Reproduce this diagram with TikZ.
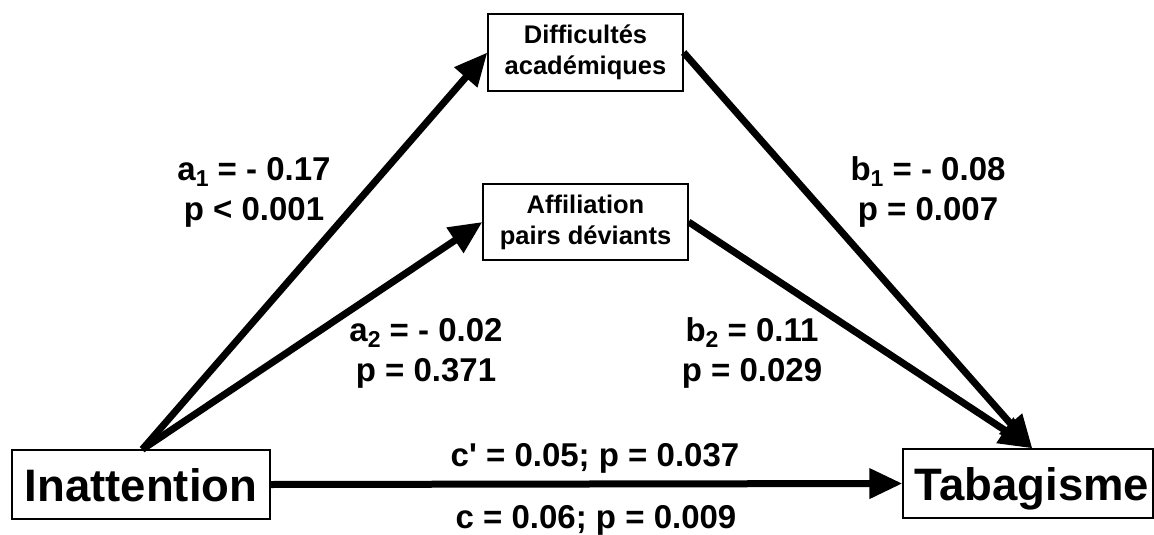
\documentclass[tikz,border=0pt]{standalone}
\usepackage{fontspec}
\setmainfont{Liberation Sans}
\usetikzlibrary{arrows.meta}
\newcommand{\lowsub}[1]{\raisebox{-0.18em}{\fontsize{23}{23}\selectfont #1}}
\begin{document}
\begin{tikzpicture}[x=1pt,y=-1pt,
  box/.style={draw, line width=1.3pt, fill=white, inner sep=0pt, align=center,
    font=\bfseries\fontsize{25.5}{31}\selectfont},
  bigbox/.style={draw, line width=1.3pt, fill=white, inner sep=0pt,
    font=\bfseries\fontsize{45.5}{54}\selectfont, text height=33pt, text depth=0pt},
  lbl/.style={inner sep=0pt, align=center, font=\bfseries\fontsize{33}{40}\selectfont},
  arr/.style={line width=7pt, -{Triangle[length=33pt,width=29pt]}}]
\useasboundingbox (0,0) rectangle (1154,535);

\node[box, minimum width=195pt, minimum height=77pt] (diff) at (585.5,52.5) {Difficultés\\académiques};
\node[box, minimum width=205pt, minimum height=76pt] (aff) at (585.5,222) {Affiliation\\pairs déviants};
\node[bigbox, minimum width=258pt, minimum height=69pt] (inat) at (141,484.5) {Inattention};
\node[bigbox, minimum width=250pt, minimum height=69pt] (taba) at (1028,483.5) {\hspace*{8pt}Tabagisme};

\draw[arr] ([xshift=131pt]inat.north west) -- (diff.west);
\draw[arr] ([xshift=131pt]inat.north west) -- (aff.west);
\draw[arr] (diff.east) -- ([xshift=130pt]taba.north west);
\draw[arr] (aff.east) -- ([xshift=130pt]taba.north west);
\draw[arr] (inat.east) -- (taba.west);

\node[lbl] (la1) at (254,192) {a\lowsub{1} = - 0.17\\p < 0.001};
\node[lbl] (lb1) at (928,192) {b\lowsub{1} = - 0.08\\p = 0.007};
\node[lbl] (la2) at (426,353) {a\lowsub{2} = - 0.02\\p = 0.371};
\node[lbl] (lb2) at (752,353) {b\lowsub{2} = 0.11\\p = 0.029};
\node[lbl, anchor=base] (lc1) at (595,466) {c\textquotesingle{} = 0.05; p = 0.037};
\node[lbl, anchor=base] (lc) at (596,528) {c = 0.06; p = 0.009};
\end{tikzpicture}
\end{document}
